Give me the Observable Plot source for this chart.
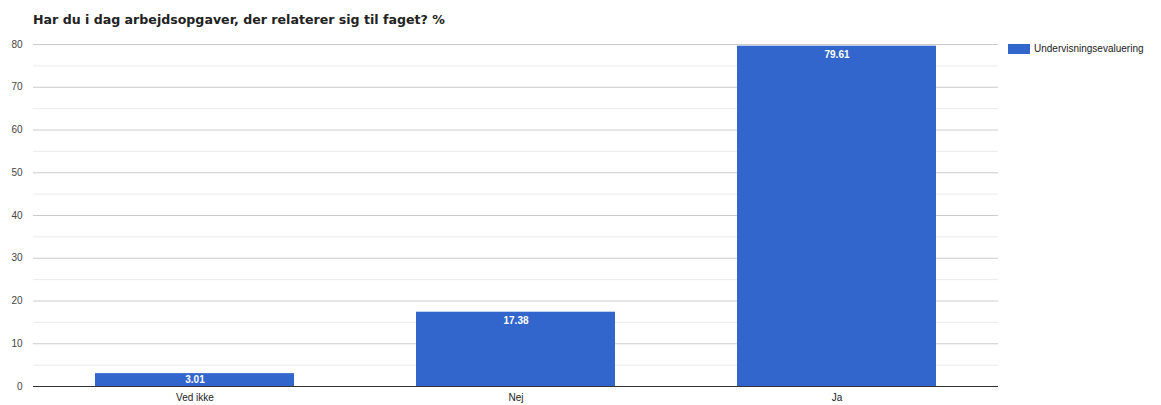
<!DOCTYPE html>
<html>
<head>
<meta charset="utf-8">
<script src="https://cdn.jsdelivr.net/npm/d3@7"></script>
<script src="https://cdn.jsdelivr.net/npm/@observablehq/plot@0.6"></script>
<style>
  body { margin: 0; background: #fff; width: 1161px; height: 405px; overflow: hidden; position: relative; }
  #title { height: 30px; box-sizing: border-box; padding-left: 33px; padding-top: 12px;
    font-family: "DejaVu Sans", sans-serif; font-weight: bold; font-size: 12.6px; color: #222; line-height: 15px; }
  #legend { position: absolute; left: 1008px; top: 43px; display: flex; align-items: center;
    font-family: "Liberation Sans", Arial, sans-serif; font-size: 10px; color: #222; }
  #legend .sw { width: 22px; height: 10px; background: #3366cc; margin-right: 4px; }
</style>
</head>
<body>
<div id="title">Har du i dag arbejdsopgaver, der relaterer sig til faget? %</div>
<div id="chart"></div>
<div id="legend"><div class="sw"></div><span>Undervisningsevaluering</span></div>
<script>
const categories = ["Ved ikke", "Nej", "Ja"];
const values = [3.01, 17.38, 79.61];
const seriesName = "Undervisningsevaluering";
const majorTicks = [0, 10, 20, 30, 40, 50, 60, 70, 80];
const minorTicks = [5, 15, 25, 35, 45, 55, 65, 75];

const data = categories.map((c, i) => ({category: c, value: values[i], series: seriesName}));

const chart = Plot.plot({
  width: 1161,
  height: 375,
  marginTop: 14,
  marginBottom: 19,
  marginLeft: 33,
  marginRight: 163,
  style: {fontFamily: "'Liberation Sans', Arial, sans-serif", fontSize: "10px", color: "#444", background: "#fff"},
  x: {domain: categories, paddingInner: 0.38, paddingOuter: 0.19, label: null, tickSize: 0, tickPadding: 7},
  y: {domain: [0, 80], ticks: majorTicks, label: null, tickSize: 0, tickPadding: 11},
  marks: [
    Plot.ruleY(minorTicks, {stroke: "#ebebeb", strokeWidth: 1}),
    Plot.ruleY(majorTicks.filter(t => t !== 0), {stroke: "#cccccc", strokeWidth: 1}),
    Plot.barY(data, {x: "category", y: "value", fill: "#3366cc"}),
    Plot.ruleY([0], {stroke: "#333333", strokeWidth: 1}),
    Plot.text(data, {
      x: "category",
      y: d => Math.max(d.value / 2, d.value - 2),
      text: d => d.value.toFixed(2),
      fill: "#ffffff",
      fontWeight: "bold",
      fontSize: 10,
      lineAnchor: "middle"
    })
  ]
});
chart.querySelectorAll('[aria-label="x-axis tick label"] text, [aria-label="x-axis tick label"]').forEach(e => e.setAttribute("fill", "#222"));
document.getElementById("chart").appendChild(chart);
</script>
</body>
</html>
